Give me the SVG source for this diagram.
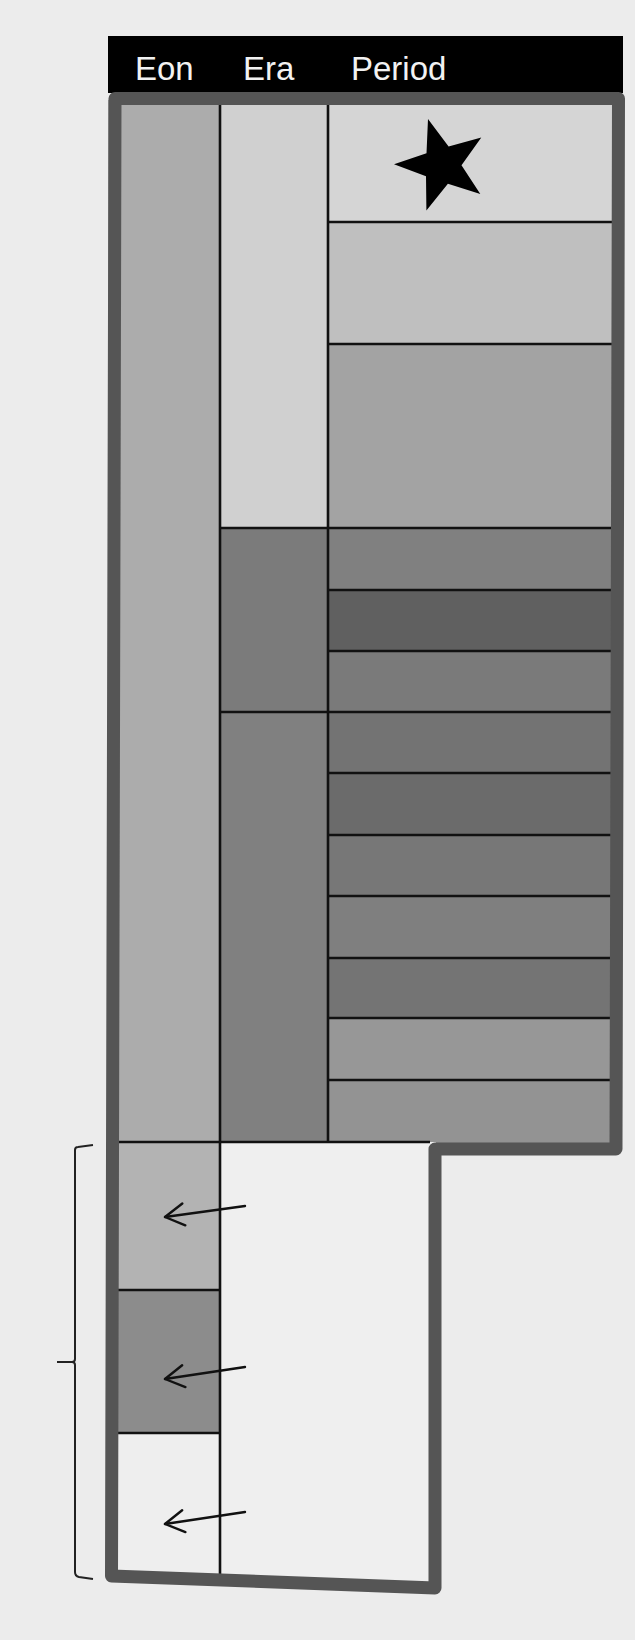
<svg xmlns="http://www.w3.org/2000/svg" width="635" height="1640" viewBox="0 0 635 1640">
<style>
.hdr{font-family:"Liberation Sans",Arial,sans-serif;font-size:33px;fill:#f2f2f2}
.ln{stroke:#111;stroke-width:2.6;fill:none}
.arr{stroke:#111;stroke-width:2.4;fill:none;stroke-linecap:round}
.br{stroke:#222;stroke-width:2;fill:none}
.border{fill:none;stroke:#555;stroke-width:13;stroke-linejoin:round}
</style>
<defs>
<marker id="head" markerUnits="userSpaceOnUse" viewBox="-24 -14 28 28" refX="0" refY="0" markerWidth="28" markerHeight="28" orient="auto" overflow="visible">
<path d="M -19 -11 L 0 0 L -19 11" fill="none" stroke="#111" stroke-width="2.4" stroke-linecap="round" stroke-linejoin="round"/>
</marker>
</defs>
<rect width="635" height="1640" fill="#ececec"/>

<g id="header">
<rect x="108" y="36" width="515" height="57" fill="#000"/>
<text class="hdr" x="135" y="80">Eon</text>
<text class="hdr" x="243" y="80">Era</text>
<text class="hdr" x="351" y="80">Period</text>
</g>

<g id="eon-upper"><rect x="108" y="100" width="112" height="1042" fill="#acacac"/></g>
<g id="era-top"><rect x="220" y="100" width="108" height="428" fill="#d0d0d0"/></g>
<g id="era-middle"><rect x="220" y="528" width="108" height="184" fill="#7b7b7b"/></g>
<g id="era-lower"><rect x="220" y="712" width="108" height="430" fill="#808080"/></g>

<g id="period-1">
<rect x="328" y="100" width="292" height="122" fill="#d5d5d5"/>
<polygon points="428,119 448.6,146.5 481.3,137.5 461.5,165.3 480.3,193.9 447.9,183.8 426.4,210.4 426,176.3 394,164.2 426.5,153.2" fill="#000"/>
</g>
<g id="period-2"><rect x="328" y="222" width="292" height="122" fill="#bfbfbf"/></g>
<g id="period-3"><rect x="328" y="344" width="292" height="184" fill="#a3a3a3"/></g>
<g id="period-4"><rect x="328" y="528" width="292" height="62" fill="#808080"/></g>
<g id="period-5"><rect x="328" y="590" width="292" height="61" fill="#606060"/></g>
<g id="period-6"><rect x="328" y="651" width="292" height="61" fill="#7a7a7a"/></g>
<g id="period-7"><rect x="328" y="712" width="292" height="61" fill="#737373"/></g>
<g id="period-8"><rect x="328" y="773" width="292" height="62" fill="#6b6b6b"/></g>
<g id="period-9"><rect x="328" y="835" width="292" height="61" fill="#777777"/></g>
<g id="period-10"><rect x="328" y="896" width="292" height="62" fill="#7f7f7f"/></g>
<g id="period-11"><rect x="328" y="958" width="292" height="60" fill="#747474"/></g>
<g id="period-12"><rect x="328" y="1018" width="292" height="62" fill="#979797"/></g>
<g id="period-13"><rect x="328" y="1080" width="292" height="64" fill="#939393"/></g>

<g id="eon-lower-1"><rect x="106" y="1142" width="114" height="148" fill="#b3b3b3"/></g>
<g id="eon-lower-2"><rect x="106" y="1290" width="114" height="143" fill="#8c8c8c"/></g>
<g id="eon-lower-3"><rect x="106" y="1433" width="114" height="150" fill="#eeeeee"/></g>
<g id="lower-blank"><polygon points="220,1142 436,1142 436,1590 220,1582" fill="#efefef"/></g>

<g id="grid">
<line class="ln" x1="220" y1="104" x2="220" y2="1582"/>
<line class="ln" x1="328" y1="104" x2="328" y2="1142"/>
<line class="ln" x1="328" y1="222" x2="613" y2="222"/>
<line class="ln" x1="328" y1="344" x2="613" y2="344"/>
<line class="ln" x1="220" y1="528" x2="613" y2="528"/>
<line class="ln" x1="328" y1="590" x2="613" y2="590"/>
<line class="ln" x1="328" y1="651" x2="613" y2="651"/>
<line class="ln" x1="220" y1="712" x2="613" y2="712"/>
<line class="ln" x1="328" y1="773" x2="612" y2="773"/>
<line class="ln" x1="328" y1="835" x2="612" y2="835"/>
<line class="ln" x1="328" y1="896" x2="611" y2="896"/>
<line class="ln" x1="328" y1="958" x2="611" y2="958"/>
<line class="ln" x1="328" y1="1018" x2="610" y2="1018"/>
<line class="ln" x1="328" y1="1080" x2="610" y2="1080"/>
<line class="ln" x1="112" y1="1142" x2="430" y2="1142"/>
<line class="ln" x1="112" y1="1290" x2="220" y2="1290"/>
<line class="ln" x1="112" y1="1433" x2="220" y2="1433"/>
</g>

<g id="outline">
<path class="border" d="M 115 98.5 L 618.5 98.5 L 616 1149 L 435 1149 L 435 1588 L 111.5 1576 Z"/>
</g>

<g id="connectors">
<line class="arr" x1="245" y1="1206" x2="165" y2="1217" marker-end="url(#head)"/>
<line class="arr" x1="245" y1="1367" x2="165" y2="1379" marker-end="url(#head)"/>
<line class="arr" x1="245" y1="1512" x2="165" y2="1524" marker-end="url(#head)"/>
</g>

<g id="bracket">
<path class="br" d="M 93 1145 L 78 1147 Q 75 1147 75 1150 L 75 1359 Q 75 1362 72 1362 L 57 1362 M 72 1362 Q 75 1362 75 1365 L 75 1572 Q 75 1576 79 1577 L 93 1579"/>
</g>
</svg>
